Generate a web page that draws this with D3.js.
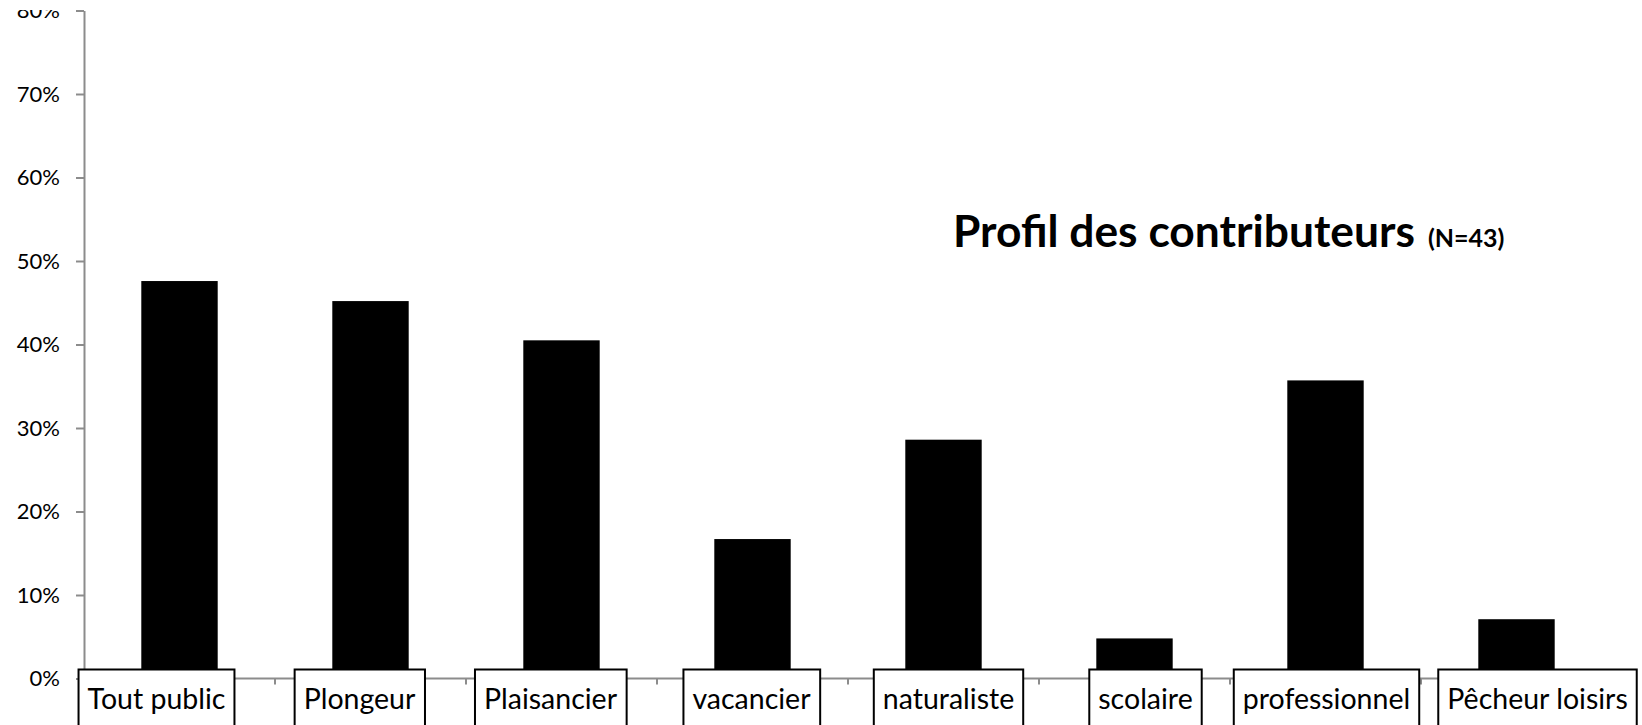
<!DOCTYPE html>
<meta charset="utf-8" />
<script src="https://d3js.org/d3.v7.min.js"></script>
<style>
  body { margin: 0; background: #fff; }
  svg { display: block; font-family: Lato, "Open Sans", sans-serif; }
</style>
<body>
<div id="my_dataviz"></div>
<script>
  // data (share of contributors)
  var categories = ["Tout public", "Plongeur", "Plaisancier", "vacancier",
    "naturaliste", "scolaire", "professionnel", "Pêcheur loisirs"];
  var values = [0.476, 0.452, 0.405, 0.167, 0.286, 0.048, 0.357, 0.071];
  var yTicks = [0, 0.1, 0.2, 0.3, 0.4, 0.5, 0.6, 0.7, 0.8];
  var titleMain = "Profil des contributeurs";
  var titleSub = "(N=43)";

  var W = 1642, H = 725;
  var plotLeft = 84, plotRight = 1612, base = 678.5, plotTop = 10.5;
  // label boxes were nudged in the original so they don't collide
  var labelDx = [-23, -11, -11, -1, 5, 11, 1, 21];

  var svg = d3.select("#my_dataviz").append("svg")
    .attr("width", W).attr("height", H);

  // the original picture is cut off a little at the top
  svg.append("clipPath").attr("id", "cut")
    .append("rect").attr("x", 0).attr("y", 10).attr("width", W).attr("height", H);
  var g = svg.append("g").attr("clip-path", "url(#cut)");

  var x = d3.scaleBand().domain(categories).range([plotLeft, plotRight]).padding(0);
  var y = d3.scaleLinear().domain([0, 0.8]).range([base, plotTop]);

  // Y axis
  var yAxis = g.append("g")
    .attr("transform", "translate(" + plotLeft + ",0)")
    .call(d3.axisLeft(y).tickValues(yTicks).tickFormat(d3.format(".0%"))
      .tickSize(8).tickPadding(16).tickSizeOuter(0));
  yAxis.selectAll("line, path").attr("stroke", "#8c8c8c").attr("stroke-width", 2);
  yAxis.selectAll("text").style("font-size", "22px").attr("fill", "#000")
    .style("font-family", "Lato, sans-serif");

  // X axis line + boundary ticks
  g.append("line")
    .attr("x1", plotLeft).attr("x2", plotRight).attr("y1", base).attr("y2", base)
    .attr("stroke", "#8c8c8c").attr("stroke-width", 2);
  g.selectAll(".xtick")
    .data(categories.slice(1).concat([null]))
    .enter().append("line")
    .attr("class", "xtick")
    .attr("x1", function (d) { return d ? x(d) : plotRight; })
    .attr("x2", function (d) { return d ? x(d) : plotRight; })
    .attr("y1", base).attr("y2", base + 6)
    .attr("stroke", "#8c8c8c").attr("stroke-width", 2);

  // Bars
  var bw = x.bandwidth() * 0.4;
  g.selectAll(".bar")
    .data(values)
    .enter().append("rect")
    .attr("class", "bar")
    .attr("x", function (d, i) { return x(categories[i]) + x.bandwidth() / 2 - bw / 2; })
    .attr("y", function (d) { return y(d); })
    .attr("width", bw)
    .attr("height", function (d) { return base - y(d); })
    .attr("fill", "#000");

  // Category labels in boxes
  var lab = g.selectAll(".lab")
    .data(categories)
    .enter().append("g")
    .attr("class", "lab");
  lab.append("rect");
  lab.append("text")
    .attr("x", function (d, i) { return x(d) + x.bandwidth() / 2 + labelDx[i]; })
    .attr("y", 709)
    .attr("text-anchor", "middle")
    .style("font-size", "28.5px")
    .attr("fill", "#000")
    .text(function (d) { return d; });
  lab.each(function () {
    var t = d3.select(this).select("text").node().getBBox();
    d3.select(this).select("rect")
      .attr("x", t.x - 9).attr("y", 669.5)
      .attr("width", t.width + 18).attr("height", 80)
      .attr("fill", "#fff").attr("stroke", "#000").attr("stroke-width", 2);
  });

  // Title
  var title = g.append("text")
    .attr("x", 953).attr("y", 247)
    .attr("font-weight", "bold")
    .attr("fill", "#000");
  var tMain = title.append("tspan").style("font-size", "41px").text(titleMain);
  // stretch a little toward the original's wider face
  var len = tMain.node().getComputedTextLength();
  tMain.style("font-size", Math.min(45, 41 * 462 / len) + "px");
  title.append("tspan").attr("dx", 13).style("font-size", "25px").text(titleSub);
</script>
</body>
